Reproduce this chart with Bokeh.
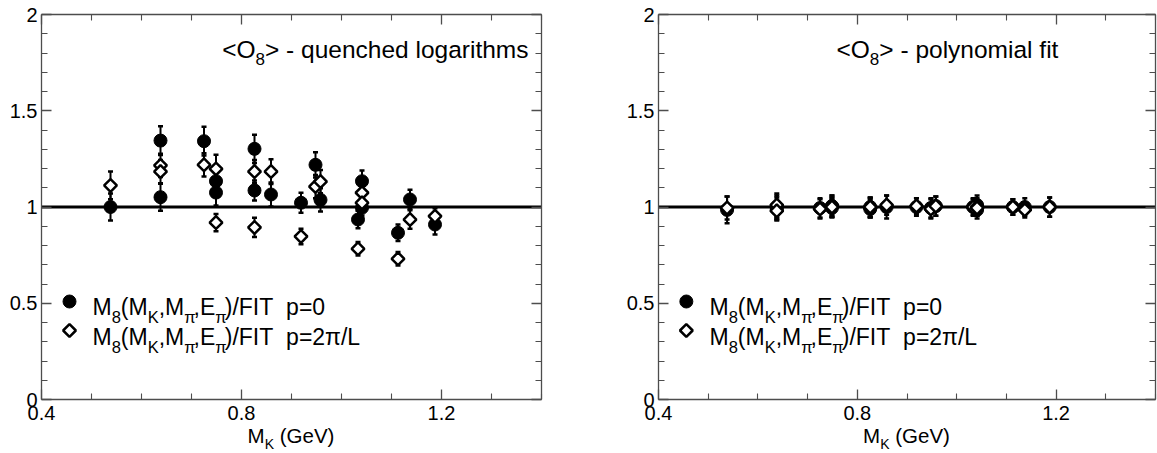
import math
from bokeh.plotting import figure
from bokeh.models import (Label, Span, Whisker, TeeHead, ColumnDataSource, FixedTicker,
                          LinearAxis, CustomJSTickFormatter, Div)
from bokeh.layouts import row, column
from bokeh.embed import file_html
from bokeh.resources import INLINE

# ---------------- data ----------------
mk_p0 = [0.538, 0.638, 0.638, 0.725, 0.749, 0.749, 0.826, 0.826, 0.859, 0.919,
         0.948, 0.958, 1.033, 1.041, 1.041, 1.113, 1.137, 1.187]
mk_p1 = [0.538, 0.638, 0.638, 0.725, 0.749, 0.749, 0.826, 0.826, 0.859, 0.919,
         0.948, 0.958, 1.033, 1.041, 1.041, 1.113, 1.137, 1.187]

# left panel: quenched logarithms
log_p0 = [1.000, 1.345, 1.051, 1.342, 1.134, 1.075, 1.302, 1.086, 1.065, 1.022,
          1.219, 1.037, 0.935, 1.134, 0.996, 0.866, 1.039, 0.909]
log_p0_err = [0.070, 0.075, 0.070, 0.075, 0.070, 0.067, 0.073, 0.052, 0.062, 0.052,
              0.066, 0.060, 0.045, 0.056, 0.040, 0.043, 0.050, 0.052]
log_p1 = [1.112, 1.216, 1.184, 1.219, 1.198, 0.919, 1.184, 0.894, 1.184, 0.847,
          1.106, 1.132, 0.783, 1.074, 1.022, 0.731, 0.935, 0.952]
log_p1_err = [0.072, 0.060, 0.060, 0.060, 0.073, 0.045, 0.060, 0.050, 0.064, 0.040,
              0.060, 0.060, 0.035, 0.050, 0.040, 0.035, 0.048, 0.042]

# right panel: polynomial fit
pol_p0 = [0.985, 1.000, 0.990, 0.995, 1.005, 0.995, 1.000, 0.990, 1.000, 1.000,
          0.995, 1.005, 1.000, 1.010, 0.985, 1.000, 1.000, 1.000]
pol_p0_err = [0.070, 0.060, 0.060, 0.050, 0.055, 0.050, 0.050, 0.045, 0.060, 0.045,
              0.050, 0.050, 0.045, 0.050, 0.045, 0.040, 0.045, 0.050]
pol_p1 = [0.995, 1.010, 0.980, 0.990, 1.010, 1.000, 0.995, 1.000, 1.010, 1.005,
          0.990, 1.005, 1.000, 1.000, 0.995, 1.000, 0.985, 1.000]
pol_p1_err = [0.060, 0.060, 0.045, 0.050, 0.050, 0.050, 0.050, 0.050, 0.050, 0.040,
              0.050, 0.050, 0.040, 0.045, 0.040, 0.040, 0.040, 0.050]

x_major = [0.4, 0.8, 1.2]
x_minor = [0.5, 0.6, 0.7, 0.9, 1.0, 1.1, 1.3, 1.4]
y_major = [0, 0.5, 1, 1.5, 2]
y_minor = [0.1, 0.2, 0.3, 0.4, 0.6, 0.7, 0.8, 0.9, 1.1, 1.2, 1.3, 1.4, 1.6, 1.7, 1.8, 1.9]

legend_p0 = [("M", 0), ("8", 1), ("(M", 0), ("K", 1), (",M", 0), ("π", 1), (",E", 0), ("π", 1),
             (")/FIT", 0), ("  p=0", 0)]
legend_p1 = [("M", 0), ("8", 1), ("(M", 0), ("K", 1), (",M", 0), ("π", 1), (",E", 0), ("π", 1),
             (")/FIT", 0), ("  p=2π/L", 0)]
title_left = [("<O", 0), ("8", 1), ("> - quenched logarithms", 0)]
title_right = [("<O", 0), ("8", 1), ("> - polynomial fit", 0)]
xlabel = [("M", 0), ("K", 1), (" (GeV)", 0)]

# ---------------- helpers ----------------
FONT = "Liberation Sans"
FRAME_BOTTOM = 399.0   # px from top of figure
PXY = 192.5            # px per y unit
AXC = "#4d4d4d"
MAIN_H = 425
STRIP_H = 453 - MAIN_H

AW = {'M': .833, '8': .556, '(': .333, ')': .333, 'K': .667, ',': .278, 'π': .57, 'E': .667,
      '/': .278, 'F': .611, 'I': .278, 'T': .611, ' ': .278, 'p': .556, '=': .584, '0': .556,
      '2': .556, 'L': .556, '<': .584, '>': .584, 'O': .778, '-': .333, 'q': .556, 'u': .556,
      'e': .556, 'n': .556, 'c': .5, 'h': .556, 'd': .556, 'l': .222, 'o': .556, 'g': .556,
      'a': .556, 'r': .333, 'i': .222, 't': .278, 'm': .833, 's': .5, 'y': .5, 'f': .278,
      'G': .778, 'V': .667}


def tw(s, size):
    return sum(AW.get(c, 0.556) for c in s) * size


def rich(p, segs, x_anchor, x_px, base_px, y_of_px, main, sub, drop, align="left"):
    total = sum(tw(t, sub if s else main) for t, s in segs)
    start = x_px - (total if align == "right" else total / 2 if align == "center" else 0)
    cum = start
    for t, s in segs:
        size = sub if s else main
        lead = len(t) - len(t.lstrip(" "))
        cum += lead * AW[" "] * size
        txt = t.strip(" ")
        y = y_of_px(base_px + (drop if s else 0))
        p.add_layout(Label(x=x_anchor, y=y, x_offset=cum, text=txt, text_font=FONT,
                           text_font_size=f"{size}px", text_color="black",
                           text_baseline="alphabetic", text_align="left"))
        cum += tw(txt, size)


def main_y(px):
    return (FRAME_BOTTOM - px) / PXY


def style_axis(ax, ticks, minor, show):
    ax.ticker = FixedTicker(ticks=ticks, minor_ticks=minor)
    ax.axis_line_color = AXC
    ax.axis_line_width = 1.3
    ax.major_tick_line_color = AXC
    ax.minor_tick_line_color = AXC
    ax.major_tick_line_width = 1.3
    ax.minor_tick_line_width = 1.1
    ax.major_tick_in = 10
    ax.major_tick_out = 0
    ax.minor_tick_in = 6
    ax.minor_tick_out = 0
    if show:
        ax.formatter = CustomJSTickFormatter(code="return String(Math.round(tick*10)/10)")
        ax.major_label_text_font = FONT
        ax.major_label_text_font_size = "20px"
        ax.major_label_text_color = "black"
    else:
        ax.formatter = CustomJSTickFormatter(code="return ''")
        ax.major_label_text_font_size = "1px"
        ax.major_label_standoff = 0


def xlabel_div(width, bl, frame_w):
    parts = []
    for t, s in xlabel:
        if s:
            parts.append(f'<span style="font-size:14px;position:relative;top:6px;">{t}</span>')
        else:
            parts.append(t)
    html = (f'<div style="width:{frame_w}px;margin-left:{bl}px;text-align:center;'
            f"font-family:'{FONT}';font-size:20.5px;line-height:20.5px;padding-top:1px;"
            f'color:black;white-space:nowrap;">' + "".join(parts) + "</div>")
    return Div(text=html, width=width, height=STRIP_H, margin=0)


def panel(width, bl, br, p0, p0e, p1, p1e, title, title_px, title_align):
    p = figure(width=width, height=MAIN_H, x_range=(0.4, 1.4), y_range=(0, 2),
               title=None, output_backend="svg", toolbar_location=None,
               min_border_left=bl, min_border_right=br, min_border_top=14,
               min_border_bottom=MAIN_H - int(FRAME_BOTTOM))
    p.grid.visible = False
    p.outline_line_color = None
    p.background_fill_color = "white"
    p.border_fill_color = "white"
    style_axis(p.xaxis[0], x_major, x_minor, True)
    style_axis(p.yaxis[0], y_major, y_minor, True)
    p.xaxis[0].major_label_standoff = 6
    p.yaxis[0].major_label_standoff = 4
    top = LinearAxis()
    style_axis(top, x_major, x_minor, False)
    p.add_layout(top, "above")
    right = LinearAxis()
    style_axis(right, y_major, y_minor, False)
    p.add_layout(right, "right")

    p.add_layout(Span(location=1.0, dimension="width", line_color="black",
                      line_width=3, level="underlay"))

    for mk, v, e in ((mk_p0, p0, p0e), (mk_p1, p1, p1e)):
        src = ColumnDataSource(dict(x=mk, up=[a + b for a, b in zip(v, e)],
                                    lo=[a - b for a, b in zip(v, e)]))
        p.add_layout(Whisker(source=src, base="x", upper="up", lower="lo", dimension="height",
                             line_color="black", line_width=2, level="underlay",
                             upper_head=TeeHead(size=5, line_width=2.5, line_color="black"),
                             lower_head=TeeHead(size=5, line_width=2.5, line_color="black")))

    p.scatter(mk_p0, p0, marker="circle", size=13, fill_color="black", line_color="black")
    p.scatter(mk_p1, p1, marker="square", angle=math.pi / 4, size=9, fill_color="white",
              line_color="black", line_width=2.5)

    # legend
    p.scatter([0.4 + 28 / 500], [main_y(301)], marker="circle", size=13,
              fill_color="black", line_color="black")
    p.scatter([0.4 + 28 / 500], [main_y(330)], marker="square",
              angle=math.pi / 4, size=9, fill_color="white", line_color="black", line_width=2.5)
    rich(p, legend_p0, 0.4, 51, 306.7, main_y, 23, 16.5, 10)
    rich(p, legend_p1, 0.4, 51, 336.7, main_y, 23, 16.5, 10)

    rich(p, title, 0.4, title_px, 48.5, main_y, 24.5, 17, 10, title_align)

    frame_w = width - bl - br
    return column(p, xlabel_div(width, bl, frame_w), spacing=0)


pl = panel(600, 41, 59, log_p0, log_p0_err, log_p1, log_p1_err, title_left, 487, "right")
pr = panel(557, 58, 2, pol_p0, pol_p0_err, pol_p1, pol_p1_err, title_right, 178, "left")

layout = row(pl, pr, spacing=0)
open("out.html", "w").write(file_html(layout, INLINE))
